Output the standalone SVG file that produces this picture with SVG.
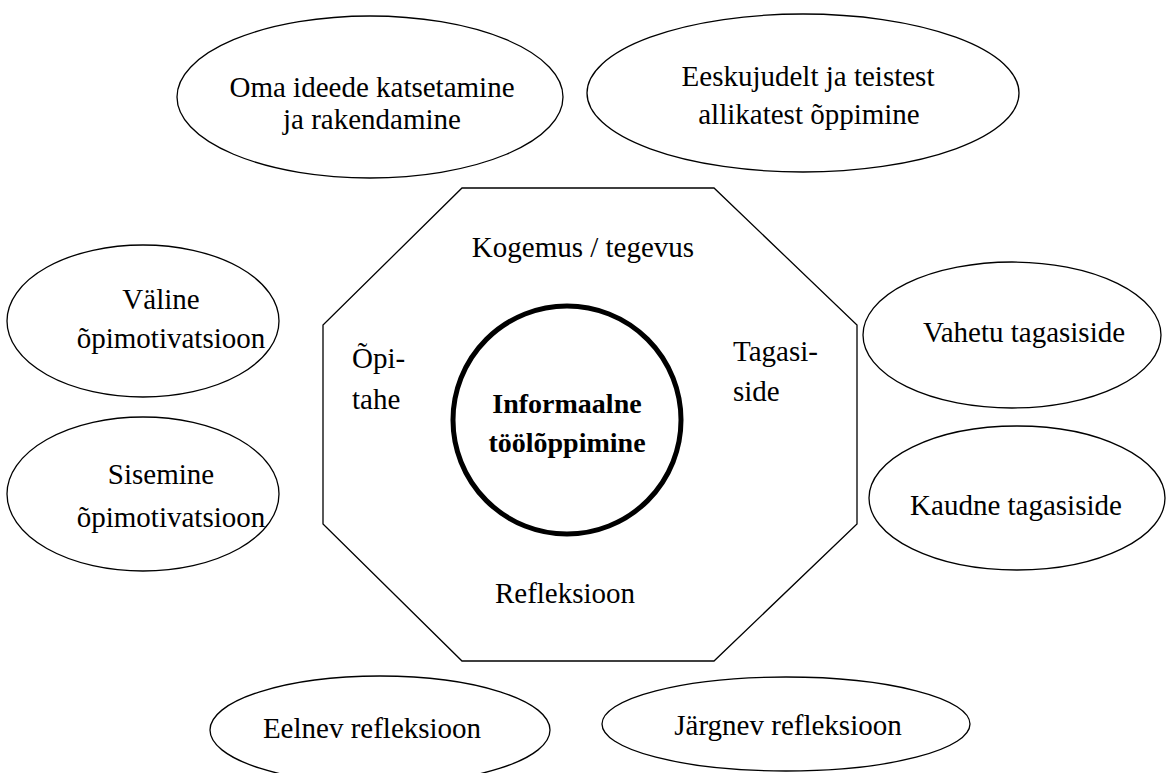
<svg xmlns="http://www.w3.org/2000/svg" width="1170" height="773" viewBox="0 0 1170 773">
<style>
.sh{fill:#fff;stroke:#000;stroke-width:1.3}
.t{font-family:"Liberation Serif","Times New Roman",serif;font-size:29px;fill:#000}
.c{text-anchor:middle}
.b{font-weight:bold;font-size:28px}
</style>
<rect width="1170" height="773" fill="#fff"/>
<g id="connectors"></g>
<g id="octagon">
<polygon class="sh" points="462,188 714,188 857,325 857,524 714,661 462,661 323,524 323,325"/>
<text class="t c" x="583" y="257">Kogemus / tegevus</text>
<text class="t" x="352" y="368">Õpi-</text>
<text class="t" x="352" y="409">tahe</text>
<text class="t" x="733" y="361">Tagasi-</text>
<text class="t" x="733" y="401">side</text>
<text class="t c" x="565" y="603">Refleksioon</text>
</g>
<g id="center">
<circle cx="567" cy="420" r="114" fill="#fff" stroke="#000" stroke-width="5"/>
<text class="t c b" x="567" y="413">Informaalne</text>
<text class="t c b" x="567" y="452">töölõppimine</text>
</g>
<g id="oma">
<ellipse class="sh" cx="370" cy="97" rx="193" ry="81"/>
<text class="t c" x="372" y="97">Oma ideede katsetamine</text>
<text class="t c" x="372" y="129">ja rakendamine</text>
</g>
<g id="eeskujud">
<ellipse class="sh" cx="803" cy="93" rx="216" ry="79"/>
<text class="t c" x="808" y="86">Eeskujudelt ja teistest</text>
<text class="t c" x="809" y="124">allikatest õppimine</text>
</g>
<g id="valine">
<ellipse class="sh" cx="143" cy="321" rx="136" ry="76"/>
<text class="t c" x="161" y="309">Väline</text>
<text class="t c" x="171" y="348">õpimotivatsioon</text>
</g>
<g id="sisemine">
<ellipse class="sh" cx="143" cy="494" rx="136" ry="77"/>
<text class="t c" x="161" y="484">Sisemine</text>
<text class="t c" x="171" y="527">õpimotivatsioon</text>
</g>
<g id="vahetu">
<ellipse class="sh" cx="1012" cy="335" rx="149" ry="73"/>
<text class="t c" x="1024" y="342">Vahetu tagasiside</text>
</g>
<g id="kaudne">
<ellipse class="sh" cx="1017" cy="498" rx="148" ry="72"/>
<text class="t c" x="1016" y="515">Kaudne tagasiside</text>
</g>
<g id="eelnev">
<ellipse class="sh" cx="380" cy="730" rx="170" ry="54"/>
<text class="t c" x="372" y="738">Eelnev refleksioon</text>
</g>
<g id="jargnev">
<ellipse class="sh" cx="786" cy="724" rx="184" ry="47"/>
<text class="t c" x="788" y="735">Järgnev refleksioon</text>
</g>
</svg>
